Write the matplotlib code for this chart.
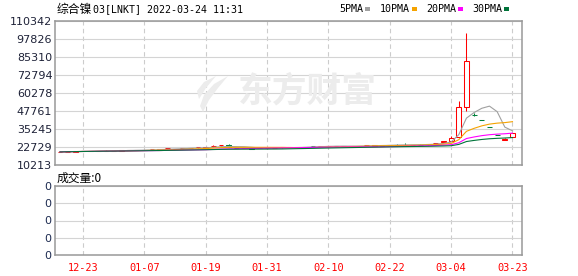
import matplotlib
matplotlib.use('Agg')
import matplotlib.pyplot as plt
import numpy as np
import pandas as pd
from matplotlib.patches import Rectangle, Polygon

# ---------------- data ----------------
dates = ['12-20', '12-21', '12-22', '12-23', '12-24', '12-29', '12-30', '12-31',
         '01-04', '01-05', '01-06', '01-07', '01-10', '01-11', '01-12', '01-13',
         '01-14', '01-17', '01-18', '01-19', '01-20', '01-21', '01-24', '01-25',
         '01-26', '01-27', '01-28', '01-31', '02-01', '02-02', '02-03', '02-04',
         '02-07', '02-08', '02-09', '02-10', '02-11', '02-14', '02-15', '02-16',
         '02-17', '02-18', '02-21', '02-22', '02-23', '02-24', '02-25', '02-28',
         '03-01', '03-02', '03-03', '03-04', '03-07', '03-08', '03-16', '03-17',
         '03-18', '03-21', '03-22', '03-23']

opens = [19250, 19500, 19600, 19850, 19950, 20100, 20150, 19900,
         20200, 20600, 20700, 20900, 21000, 20900, 21700, 21350,
         21700, 22150, 22400, 22300, 23100, 23800, 24350, 22100,
         22200, 21800, 21900, 22000, 22200, 22400, 22500, 22600,
         22700, 23600, 23400, 23100, 23500, 23250, 23100, 23500,
         23850, 23700, 23750, 24150, 24450, 24450, 24300, 24400,
         24500, 25300, 26300, 27100, 29900, 50300, 45300, 41600,
         36500, 31200, 27400, 29900]

highs = [19400, 19600, 19800, 19950, 20000, 20150, 20500, 20250,
         20500, 20650, 20750, 20950, 21050, 21200, 22100, 21650,
         22100, 22200, 22450, 22600, 23800, 24150, 24500, 22200,
         22250, 21850, 21950, 22050, 22250, 22450, 22550, 22650,
         23000, 23700, 23700, 23400, 23550, 23500, 23400, 23550,
         24100, 24000, 24050, 24300, 24700, 25400, 24350, 24700,
         24900, 25800, 26900, 30300, 54700, 102200, 46100, 41600,
         36500, 31200, 28700, 32300]

lows = [19150, 19450, 19550, 19800, 19900, 20050, 20100, 19850,
        20150, 20550, 20650, 20850, 20950, 20850, 21650, 21300,
        21650, 22100, 22350, 22250, 23050, 23750, 22900, 21750,
        22150, 21500, 21850, 21950, 22150, 22350, 22450, 22550,
        22650, 23350, 23350, 23050, 23250, 23150, 23050, 23450,
        23800, 23650, 23700, 24100, 24300, 24250, 24250, 24300,
        24450, 25250, 26250, 26900, 29500, 48000, 44600, 41400,
        36300, 31000, 27300, 29800]

closes = [19300, 19550, 19750, 19900, 19950, 20100, 20250, 20200,
          20450, 20600, 20700, 20900, 21000, 21150, 22000, 21600,
          22050, 22150, 22400, 22550, 23400, 24100, 22950, 21850,
          22200, 21550, 21900, 22000, 22200, 22400, 22500, 22600,
          22950, 23400, 23450, 23350, 23300, 23200, 23350, 23500,
          23900, 23950, 24000, 24150, 24400, 24400, 24300, 24350,
          24850, 25700, 26800, 29000, 50300, 82300, 45200, 41500,
          36400, 31100, 28600, 32200]

ma_periods = [5, 10, 20, 30]
ma_names = ['5PMA', '10PMA', '20PMA', '30PMA']
price_ticks = [10213, 22729, 35245, 47761, 60278, 72794, 85310, 97826, 110342]
x_tick_labels = ['12-23', '01-07', '01-19', '01-31', '02-10', '02-22', '03-04', '03-23']
volume_value = 0
volume_ticks = [0, 1, 2, 3, 4]
title_name = '综合镍'
title_rest = '03[LNKT] 2022-03-24 11:31'

# ---------------- style ----------------
W, H = 578, 276
RED = '#ff0000'
GREEN = '#00803a'
MA_COLORS = ['#a0a0a0', '#f5a300', '#ff00ff', '#00733a']
BORDER = '#999999'
LABEL = '#1e2238'
CJK = ['Noto Sans CJK SC', 'DejaVu Sans']
MONO = ['DejaVu Sans Mono', 'Noto Sans CJK SC']

def fx(px):
    return px / W

def fy(py):
    return 1 - py / H

fig = plt.figure(figsize=(W / 100, H / 100), dpi=100)
fig.patch.set_facecolor('white')

ax = fig.add_axes([fx(55), fy(165), (522 - 55) / W, (165 - 21) / H])
ax2 = fig.add_axes([fx(55), fy(255), (522 - 55) / W, (255 - 186) / H])

n = len(closes)
idx = np.arange(n)
o = np.array(opens, float)
c = np.array(closes, float)
h = np.array(highs, float)
l = np.array(lows, float)
up = c >= o

# watermark
ax.text(0.0, 0.0, '', transform=ax.transAxes)
fig.text(fx(307), fy(91), '东方财富', fontsize=25, fontweight='bold',
         family=CJK, color='#ececec', ha='center', va='center', zorder=0)
logo = Polygon([[fx(p[0]), fy(p[1])] for p in
                [(228, 76), (214, 84), (204, 95), (200, 106), (203, 112),
                 (209, 100), (218, 88)]],
               closed=True, transform=fig.transFigure, facecolor='#ececec',
               edgecolor='none', zorder=0)
fig.patches.append(logo)
logo2 = Polygon([[fx(p[0]), fy(p[1])] for p in
                 [(216, 76), (204, 82), (197, 91), (199, 99), (206, 88)]],
                closed=True, transform=fig.transFigure, facecolor='#ececec',
                edgecolor='none', zorder=0)
fig.patches.append(logo2)
ax.patch.set_alpha(0)
ax2.patch.set_alpha(0)

# candles
body_w = 0.62
lw = 0.75
for i in range(n):
    col = RED if up[i] else GREEN
    top = max(o[i], c[i])
    bot = min(o[i], c[i])
    if h[i] > top:
        ax.vlines(i, top, h[i], color=col, lw=lw, zorder=3)
    if l[i] < bot:
        ax.vlines(i, l[i], bot, color=col, lw=lw, zorder=3)
ax.bar(idx[up], (c - o)[up], bottom=o[up], width=body_w, facecolor='white',
       edgecolor=RED, lw=lw, zorder=3.5)
ax.bar(idx[~up], (c - o)[~up], bottom=o[~up], width=body_w, facecolor=GREEN,
       edgecolor=GREEN, lw=lw, zorder=3.5)

# moving averages
s = pd.Series(c)
for p, col in zip(ma_periods, MA_COLORS):
    ma = s.rolling(p, min_periods=1).mean()
    ax.plot(idx, ma.values, color=col, lw=0.8, zorder=5)

# axes setup
tick_idx = [dates.index(d) for d in x_tick_labels]
for a in (ax, ax2):
    a.set_xlim(-0.65, 60.24)
    a.set_xticks(tick_idx)
    a.set_axisbelow(True)
    a.grid(axis='x', color='#cccccc', lw=0.8, ls=(0, (4, 3)))
    a.grid(axis='y', color='#d4d4d4', lw=0.8, ls='-')
    for sp in a.spines.values():
        sp.set_color(BORDER)
        sp.set_linewidth(1.1)
    a.tick_params(length=0)

ax.set_ylim(price_ticks[0], price_ticks[-1])
ax.set_yticks(price_ticks)
ax.set_yticklabels([str(v) for v in price_ticks], fontsize=8, color=LABEL,
                   family='DejaVu Sans')
ax.tick_params(axis='y', pad=2)
ax.set_xticklabels([])

ax2.set_ylim(volume_ticks[0], volume_ticks[-1])
ax2.set_yticks(volume_ticks)
ax2.set_yticklabels(['0'] * len(volume_ticks), fontsize=8, color='#1c2a50',
                    family='DejaVu Sans')
ax2.tick_params(axis='y', pad=3)
ax2.set_xticklabels(x_tick_labels, fontsize=7.4, color=RED, family=MONO)
ax2.tick_params(axis='x', pad=6)

# title
fig.text(fx(57), fy(9.5), title_name, fontsize=8.5, family=CJK,
         color='black', ha='left', va='center')
fig.text(fx(93), fy(9.5), title_rest, fontsize=7.2, family=MONO,
         color='black', ha='left', va='center')

# MA legend
leg_x = [339, 380, 426, 472]
for name, col, x0 in zip(ma_names, MA_COLORS, leg_x):
    t = fig.text(fx(x0), fy(9), name, fontsize=7.2, family=MONO,
                 color='black', ha='left', va='center')
    wpx = len(name) * 5.95
    fig.patches.append(Rectangle((fx(x0 + wpx + 2), fy(11)), 5 / W, 4 / H,
                                 transform=fig.transFigure, facecolor=col,
                                 edgecolor='none'))

# volume label
fig.text(fx(57), fy(178), '成交量:' + str(volume_value), fontsize=8.5,
         family=CJK, color='black', ha='left', va='center')

fig.savefig('out.png', dpi=100, facecolor='white')
